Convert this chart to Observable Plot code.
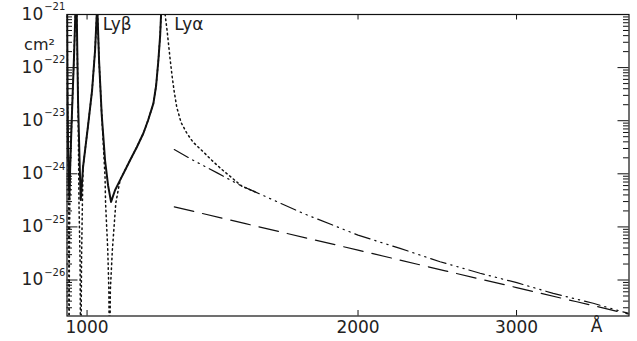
<!DOCTYPE html>
<html>
<head>
<meta charset="utf-8">
<script src="https://cdn.jsdelivr.net/npm/d3@7"></script>
<script src="https://cdn.jsdelivr.net/npm/@observablehq/plot@0.6"></script>
<style>
  html, body { margin: 0; padding: 0; background: #fff; }
  #chart svg { display: block; }
</style>
</head>
<body>
<div id="chart"></div>
<script>
// ---- data (wavelength in Å, cross-section in cm²) ----
const solidLambda = [950, 951.5, 953, 955.7, 958.6, 962.4, 967.3, 970.5, 972.5, 974.0, 977.2, 981.5, 984.0,
  989.8, 1002.6, 1012.9, 1020.7, 1025.1, 1025.7, 1027.2, 1031.2, 1038.3, 1047.1, 1055.2, 1063.3,
  1074.2, 1088.1, 1102.1, 1116.3, 1135.6, 1155.0, 1169.0, 1185.0, 1193.3, 1200.1, 1205.6, 1208.4, 1215.7];
const solidSigma = [5e-21, 2e-23, 2e-24, 3.5e-25, 2.2e-24, 1.57e-23, 1.7e-22, 1e-21, 1e-19, 1e-21, 2.4e-23, 1.33e-24, 3.2e-25,
  1.33e-24, 8.2e-24, 3.7e-23, 2.1e-22, 1e-21, 1e-19, 1e-21, 1.36e-22, 1.27e-23, 1.8e-24, 6.1e-25, 2.96e-25,
  4.9e-25, 7.6e-25, 1.17e-24, 1.8e-24, 3.16e-24, 5.8e-24, 1.02e-23, 2.12e-23, 4.6e-23, 1.36e-22, 4.0e-22, 1e-21, 1e-19];

const dottedLambda = [950, 951.5, 953, 954.3, 955.0, 955.8, 957.2, 958.6, 962.4, 967.3, 970.5, 972.5, 974.0,
  977.2, 979.7, 982.3, 984.0, 986.0, 988.0, 989.8, 1002.6, 1012.9, 1020.7, 1025.1, 1025.7, 1027.2,
  1031.2, 1038.3, 1047.1, 1048.5, 1054.4, 1057.4, 1059.3, 1061.4, 1066.9, 1076.3, 1088.1, 1102.1, 1116.3,
  1135.6, 1155.0, 1169.0, 1185.0, 1193.3, 1200.1, 1205.6, 1208.4, 1215.7, 1221.0, 1227.2, 1236.5, 1242.8,
  1249.3, 1258, 1271.8, 1290.9, 1311.7, 1340.5, 1375.8, 1411.4, 1441.6, 1485.6, 1537];
const dottedSigma = [5e-21, 2e-23, 1.5e-24, 3e-26, 1e-28, 3e-26, 5e-25, 2.2e-24, 1.57e-23, 1.7e-22, 1e-21, 1e-19, 1e-21,
  2.4e-23, 2.35e-25, 2.4e-26, 1e-28, 2.4e-26, 2.35e-25, 1.33e-24, 8.2e-24, 3.7e-23, 2.1e-22, 1e-21, 1e-19, 1e-21,
  1.36e-22, 1.27e-23, 8.7e-25, 2.8e-25, 3.7e-26, 6.5e-27, 1e-28, 6.5e-27, 3.7e-26, 2.8e-25, 7.6e-25, 1.17e-24, 1.8e-24,
  3.16e-24, 5.8e-24, 1.02e-23, 2.12e-23, 4.6e-23, 1.36e-22, 4.0e-22, 1e-21, 1e-19, 1e-21, 5e-22, 1.49e-22, 7.1e-23,
  3.7e-23, 1.79e-23, 9.3e-24, 5.8e-24, 3.93e-24, 2.78e-24, 1.8e-24, 1.21e-24, 9.0e-25, 5.85e-25, 4.57e-25];

const dashDotLambda = [1250, 1307, 1395, 1479, 1537, 1739, 2000, 2227, 2467, 2733, 3002, 3295, 3650, 3910, 4000];
const dashDotSigma = [2.86e-24, 1.86e-24, 1.04e-24, 6.1e-25, 4.57e-25, 1.79e-25, 7.0e-26, 3.94e-26, 2.21e-26,
  1.34e-26, 8.9e-27, 5.6e-27, 3.65e-27, 2.6e-27, 2.35e-27];

const longDashLambda = [1250, 1500, 2000, 2500, 3000, 3500, 4000];
const longDashSigma = [2.39e-25, 1.15e-25, 3.65e-26, 1.49e-26, 7.2e-27, 3.89e-27, 2.28e-27];

const xTickValues = [1000, 2000, 3000];
const xTickLabels = ["1000", "2000", "3000"];
const xUnitLabel = "Å";
const yUnitLabel = "cm²";
const yMajorTicks = [1e-21, 1e-22, 1e-23, 1e-24, 1e-25, 1e-26];
const lineLabels = [{lambda: 1041, text: "Lyβ"}, {lambda: 1250, text: "Lyα"}];

// ---- build ----
const W = 637, H = 341;
const mL = 66.5, mR = 8.5, mT = 14, mB = 25.5;
const pw = W - mL - mR, ph = H - mT - mB;
const xDomain = [950, 4000], yDomain = [2.1e-27, 1e-21];

const rows = (xs, ys) => xs.map((x, i) => ({x, y: ys[i]}));

const yMinor = [];
for (let e = -27; e <= -22; e++) for (let k = 2; k <= 9; k++) {
  const v = k * Math.pow(10, e);
  if (v >= yDomain[0] && v <= yDomain[1]) yMinor.push(v);
}

const ink = "#111";
const txt = "#222";
const font = "DejaVu Sans, sans-serif";

const chart = Plot.plot({
  width: W, height: H,
  marginLeft: mL, marginRight: mR, marginTop: mT, marginBottom: mB,
  style: {fontFamily: font, background: "#fff", overflow: "visible"},
  x: {type: "log", domain: xDomain, axis: null},
  y: {type: "log", domain: yDomain, axis: null},
  marks: [
    // curves
    Plot.line(rows(dottedLambda, dottedSigma), {x: "x", y: "y", stroke: ink, strokeWidth: 1.5, strokeDasharray: "1.5,3.3", clip: true}),
    Plot.line(rows(longDashLambda, longDashSigma), {x: "x", y: "y", stroke: ink, strokeWidth: 1.2, strokeDasharray: "20,9", clip: true}),
    Plot.line(rows(dashDotLambda, dashDotSigma), {x: "x", y: "y", stroke: ink, strokeWidth: 1.2, strokeDasharray: "16,5,1.3,5,1.3,5,1.3,5", clip: true}),
    Plot.line(rows(solidLambda, solidSigma), {x: "x", y: "y", stroke: ink, strokeWidth: 2, clip: true}),
    // y ticks (inward, both sides)
    Plot.ruleY(yMajorTicks.filter(v => v < 1e-21), {y: d => d, insetRight: pw - 11, stroke: ink, strokeWidth: 1}),
    Plot.ruleY(yMajorTicks.filter(v => v < 1e-21), {y: d => d, insetLeft: pw - 11, stroke: ink, strokeWidth: 1}),
    Plot.ruleY(yMinor, {y: d => d, insetRight: pw - 5.5, stroke: ink, strokeWidth: 1}),
    Plot.ruleY(yMinor, {y: d => d, insetLeft: pw - 5.5, stroke: ink, strokeWidth: 1}),
    // x ticks (inward, top & bottom)
    Plot.ruleX(xTickValues, {x: d => d, insetTop: ph - 5.5, stroke: ink, strokeWidth: 1}),
    Plot.ruleX(xTickValues, {x: d => d, insetBottom: ph - 5.5, stroke: ink, strokeWidth: 1}),
    Plot.frame({stroke: ink, strokeWidth: 1.2}),
    // y tick labels 10^n
    Plot.text(yMajorTicks, {y: d => d, text: () => "10", frameAnchor: "left", dx: -23.8, dy: 0, textAnchor: "end", fontSize: 17, fill: txt}),
    Plot.text(yMajorTicks, {y: d => d, text: d => "\u2212" + Math.round(-Math.log10(d)), frameAnchor: "left", dx: -22.8, dy: -7.5, textAnchor: "start", fontSize: 10, fill: txt}),
    Plot.text([yUnitLabel], {text: d => d, frameAnchor: "top-left", dx: -27.5, dy: 24, textAnchor: "middle", fontSize: 16, fill: txt}),
    // x tick labels
    Plot.text(xTickValues, {x: d => d, text: (d, i) => xTickLabels[i], frameAnchor: "bottom", dy: 17, fontSize: 17, fill: txt}),
    Plot.text([xUnitLabel], {text: d => d, frameAnchor: "bottom-right", dx: -26.5, dy: 16, fontSize: 17, fill: txt}),
    // line labels
    Plot.text(lineLabels, {x: "lambda", text: "text", frameAnchor: "top", textAnchor: "start", lineAnchor: "top", dy: 3, fontSize: 17, fill: txt})
  ]
});

document.getElementById("chart").appendChild(chart);
</script>
</body>
</html>
